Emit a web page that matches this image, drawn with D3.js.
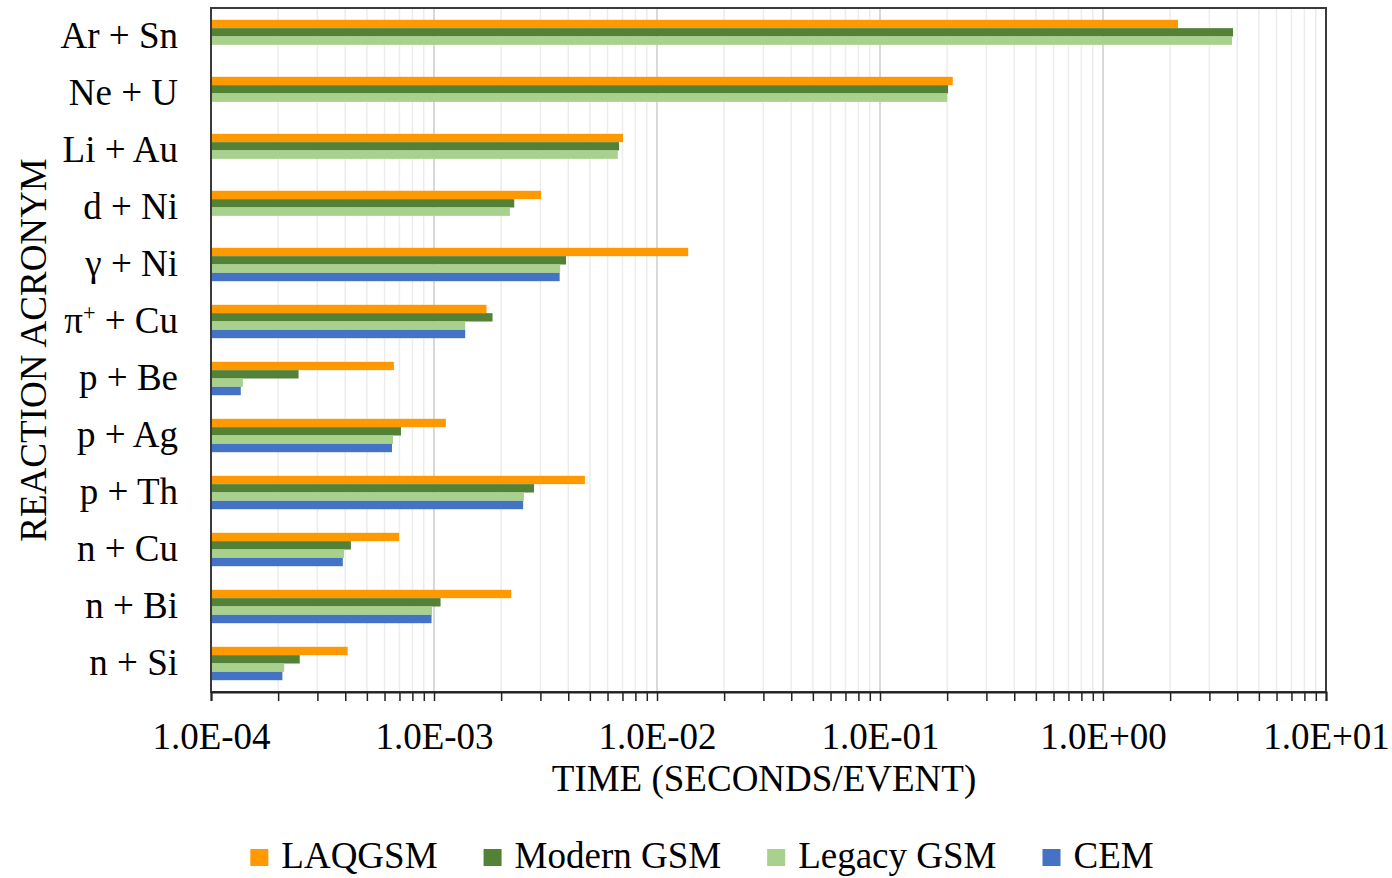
<!DOCTYPE html>
<html>
<head>
<meta charset="utf-8">
<script src="https://cdn.jsdelivr.net/npm/d3@7"></script>
<style>
  html, body { margin: 0; padding: 0; background: #fff; }
  svg { display: block; font-family: "Liberation Serif", "Times New Roman", serif; }
</style>
</head>
<body>
<svg id="chart" width="1392" height="878"></svg>
<script>
// Reactions, listed top to bottom
const reactions = ["Ar + Sn", "Ne + U", "Li + Au", "d + Ni", "γ + Ni", "π+ + Cu",
                   "p + Be", "p + Ag", "p + Th", "n + Cu", "n + Bi", "n + Si"];

// Series names (drawn top to bottom inside each group)
const seriesNames = ["LAQGSM", "Modern GSM", "Legacy GSM", "CEM"];

// Time per event in seconds (null = not computed)
const laqgsm    = [2.17, 0.212, 0.00704, 0.00302, 0.0138, 0.00172, 0.000661, 0.00113, 0.00475, 0.000697, 0.00222, 0.00041];
const modernGsm = [3.83, 0.202, 0.00676, 0.00229, 0.00391, 0.00183, 0.000247, 0.000711, 0.00281, 0.000424, 0.00107, 0.00025];
const legacyGsm = [3.79, 0.200, 0.00667, 0.00219, 0.00368, 0.00138, 0.000139, 0.000655, 0.00253, 0.000395, 0.00098, 0.000213];
const cem       = [null, null, null, null, 0.00366, 0.00138, 0.000136, 0.000648, 0.00251, 0.00039, 0.000975, 0.000209];

// Axis decades and their labels
const decades = [1e-4, 1e-3, 1e-2, 1e-1, 1e0, 1e1];
const tickLabels = ["1.0E-04", "1.0E-03", "1.0E-02", "1.0E-01", "1.0E+00", "1.0E+01"];

const seriesValues = [laqgsm, modernGsm, legacyGsm, cem];
const colors = ["#ff9900", "#538135", "#a9d18e", "#4472c4"];

const svg = d3.select("#chart");
const plot = { left: 211, top: 8, right: 1326, bottom: 692 };
const FONT = 37;

const x = d3.scaleLog().domain([1e-4, 1e1]).range([plot.left, plot.right]);
const y = d3.scaleBand().domain(reactions).range([plot.top, plot.bottom])
  .paddingInner(0.414).paddingOuter(0.207);
const ys = d3.scaleBand().domain(seriesNames).range([0, y.bandwidth()]);

// every 1..9 multiple of each decade, for ticks and grid
const allTicks = [];
decades.slice(0, -1).forEach(d => { for (let m = 1; m < 10; m++) allTicks.push(d * m); });
allTicks.push(1e1);
const isMajor = v => decades.some(d => Math.abs(v / d - 1) < 1e-9);

// grid
svg.append("g").selectAll("line").data(allTicks.filter(v => v > 1e-4 && v < 1e1)).join("line")
  .attr("x1", d => x(d)).attr("x2", d => x(d))
  .attr("y1", plot.top).attr("y2", plot.bottom)
  .attr("stroke", d => isMajor(d) ? "#d9d9d9" : "#ececec")
  .attr("stroke-width", d => isMajor(d) ? 2 : 1.5);

// bars
const groups = svg.append("g").selectAll("g").data(seriesNames).join("g")
  .attr("fill", (d, i) => colors[i]);
groups.each(function (name, si) {
  const rows = reactions.map((r, ri) => ({ r, v: seriesValues[si][ri] })).filter(d => d.v != null);
  d3.select(this).selectAll("rect").data(rows).join("rect")
    .attr("x", x(1e-4))
    .attr("y", d => y(d.r) + ys(name))
    .attr("width", d => x(d.v) - x(1e-4))
    .attr("height", ys.bandwidth());
});

// frame
svg.append("rect")
  .attr("x", plot.left).attr("y", plot.top)
  .attr("width", plot.right - plot.left).attr("height", plot.bottom - plot.top)
  .attr("fill", "none").attr("stroke", "#3a3a3a").attr("stroke-width", 2);

// x axis
const xAxis = d3.axisBottom(x)
  .tickValues(allTicks)
  .tickSize(9)
  .tickPadding(22)
  .tickFormat(v => { const i = decades.findIndex(d => Math.abs(v / d - 1) < 1e-9); return i >= 0 ? tickLabels[i] : ""; });
const gx = svg.append("g").attr("transform", `translate(0,${plot.bottom})`).call(xAxis);
gx.select(".domain").attr("stroke", "#222").attr("stroke-width", 2);
gx.selectAll(".tick line").attr("stroke", "#222").attr("stroke-width", 1.5);
gx.selectAll(".tick text").attr("font-size", FONT).attr("font-family", "Liberation Serif").attr("fill", "#000");

// category labels
const yl = svg.append("g").selectAll("text").data(reactions).join("text")
  .attr("x", 178)
  .attr("y", d => y(d) + y.bandwidth() / 2)
  .attr("dy", "0.32em")
  .attr("text-anchor", "end")
  .attr("font-size", FONT);
yl.each(function (d) {
  const t = d3.select(this);
  if (d.startsWith("π+")) {
    t.append("tspan").text("π");
    t.append("tspan").text("+").attr("font-size", FONT * 0.6).attr("dy", "-0.6em");
    t.append("tspan").text(" + Cu").attr("dy", "0.36em");
  } else {
    t.text(d);
  }
});

// axis titles
svg.append("text")
  .attr("x", 764).attr("y", 791)
  .attr("text-anchor", "middle").attr("font-size", FONT)
  .text("TIME (SECONDS/EVENT)");
svg.append("text")
  .attr("transform", "translate(46,350) rotate(-90)")
  .attr("text-anchor", "middle").attr("font-size", FONT)
  .text("REACTION ACRONYM");

// legend, centred under the chart
const legend = svg.append("g");
const items = legend.selectAll("g").data(seriesNames).join("g");
items.append("rect").attr("width", 18).attr("height", 17).attr("y", -19)
  .attr("fill", (d, i) => colors[i]);
items.append("text").attr("x", 31).attr("font-size", FONT).text(d => d);
let cx = 0;
items.each(function () {
  const w = 31 + d3.select(this).select("text").node().getComputedTextLength();
  d3.select(this).attr("transform", `translate(${cx},0)`);
  cx += w + 46;
});
const total = cx - 46;
legend.attr("transform", `translate(${702 - total / 2},868)`);
</script>
</body>
</html>
